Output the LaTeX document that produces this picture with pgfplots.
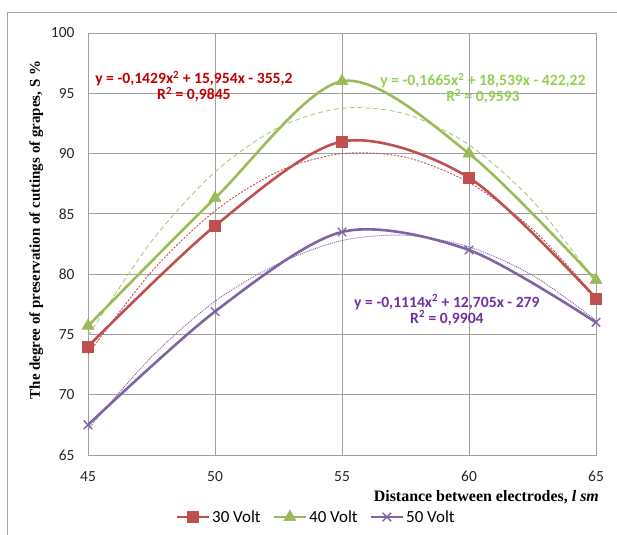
\documentclass[border=0pt]{standalone}
\usepackage{fontspec}
\setmainfont{Liberation Serif}
\newfontfamily\carlito{Carlito}
\usepackage{pgfplots}
\pgfplotsset{compat=1.18}

\definecolor{ser30}{HTML}{C0504D}
\definecolor{ser40}{HTML}{9BBB59}
\definecolor{ser50}{HTML}{8064A2}
\definecolor{txt30}{HTML}{C00000}
\definecolor{txt40}{HTML}{92D050}
\definecolor{txt50}{HTML}{7030A0}
\definecolor{gridc}{HTML}{A0A0A0}

\begin{document}
\begin{tikzpicture}
\useasboundingbox (0bp,0bp) rectangle (617bp,535bp);
% chart frame (top and left edges)
\draw[gray!70, line width=1bp] (617bp,522bp) -- (7bp,522bp) -- (7bp,0bp);

\begin{axis}[
  at={(88bp,80bp)}, anchor=south west,
  scale only axis, width=508bp, height=422bp,
  xmin=45, xmax=65, ymin=65, ymax=100,
  xtick={45,50,...,65}, ytick={65,70,...,100},
  grid=major,
  grid style={gridc, line width=0.8bp},
  axis line style={gridc, line width=0.8bp},
  major tick length=0pt,
  /pgf/number format/assume math mode=true,
  ticklabel style={font=\carlito\fontsize{15.5}{18}\selectfont, text=black!85},
  xticklabel style={yshift=-15bp, inner sep=1bp},
  yticklabel style={xshift=-10bp},
  xlabel={\bfseries Distance between electrodes, \textit{l sm}},
  xlabel style={at={(axis description cs:1.008,-0.1)}, anchor=east,
                inner sep=1bp, font=\fontsize{16}{18}\selectfont},
  ylabel={\bfseries The degree of preservation of cuttings of grapes, S \%},
  ylabel style={at={(axis description cs:-0.102,0.533)}, anchor=center,
                font=\fontsize{15}{17}\selectfont},
  legend columns=3,
  legend style={at={(axis description cs:0.449,-0.147)}, anchor=center,
                draw=none, fill=none,
                font=\carlito\fontsize{17}{19}\selectfont,
                /tikz/every even column/.append style={column sep=10bp}},
  legend image code/.code={
    \draw[mark repeat=2, mark phase=2, #1]
      plot coordinates {(0bp,0bp) (16bp,0bp) (32bp,0bp)};
  },
]

% polynomial trendlines (sampled from the fitted equations)
\addplot[forget plot, ser30, line width=0.9bp, dash pattern=on 2bp off 1.5bp, smooth]
  coordinates {(45,73.36) (47.5,80.20) (50,85.25) (52.5,88.52) (55,90.00)
               (57.5,89.69) (60,87.60) (62.5,83.72) (65,78.06)};
\addplot[forget plot, ser40!80, line width=0.9bp, dash pattern=on 5bp off 3bp, smooth]
  coordinates {(45,74.87) (47.5,82.72) (50,88.48) (52.5,92.16) (55,93.76)
               (57.5,93.28) (60,90.72) (62.5,86.08) (65,79.35)};
\addplot[forget plot, ser50, line width=0.9bp, dash pattern=on 1bp off 1bp, smooth]
  coordinates {(45,67.14) (47.5,73.14) (50,77.75) (52.5,80.87) (55,82.79)
               (57.5,83.22) (60,82.26) (62.5,79.91) (65,76.16)};

% measured series
\addplot[ser30, line width=2.6bp, smooth, mark=square*, mark size=5.5bp,
         mark options={solid, line width=0.5bp}]
  coordinates {(45,74) (50,84) (55,91) (60,88) (65,78)};
\addlegendentry{30 Volt}
\addplot[ser40, line width=2.6bp, smooth, mark=triangle*, mark size=7bp,
         mark options={solid, line width=0.5bp}]
  coordinates {(45,75.7) (50,86.3) (55,96) (60,90) (65,79.5)};
\addlegendentry{40 Volt}
\addplot[ser50, line width=2.6bp, smooth, mark=x, mark size=6bp,
         mark options={solid, line width=1.3bp}]
  coordinates {(45,67.5) (50,76.9) (55,83.5) (60,82) (65,76)};
\addlegendentry{50 Volt}

% trendline equations
\begin{scope}[font=\carlito\bfseries\fontsize{15.7}{18}\selectfont]
\node[txt30, align=center] at (axis cs:49.17,95.57)
  {y = -0,1429x\textsuperscript{2} + 15,954x - 355,2\\[-2bp]R\textsuperscript{2} = 0,9845};
\node[txt40, align=center] at (axis cs:60.55,95.40)
  {y = -0,1665x\textsuperscript{2} + 18,539x - 422,22\\[-2bp]R\textsuperscript{2} = 0,9593};
\node[txt50, align=center] at (axis cs:59.13,77.03)
  {y = -0,1114x\textsuperscript{2} + 12,705x - 279\\[-2bp]R\textsuperscript{2} = 0,9904};
\end{scope}
\end{axis}
\end{tikzpicture}
\end{document}
